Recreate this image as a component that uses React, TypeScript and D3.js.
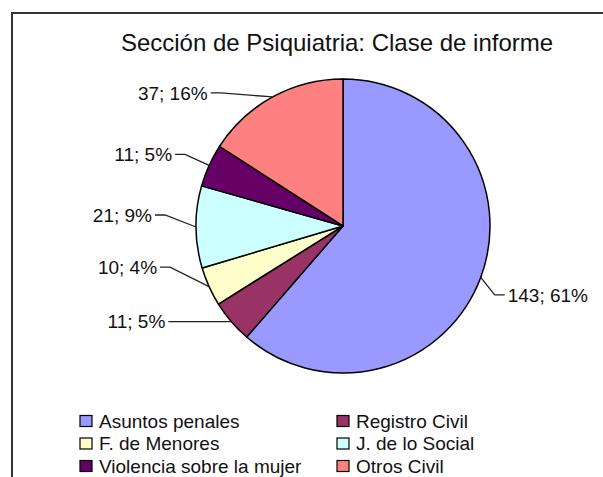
import React from "react";
import * as d3 from "d3";

const title = "Sección de Psiquiatria: Clase de informe";
const categories = [
  "Asuntos penales",
  "Registro Civil",
  "F. de Menores",
  "J. de lo Social",
  "Violencia sobre la mujer",
  "Otros Civil",
];
const values = [143, 11, 10, 21, 11, 37];
const colors = ["#9999ff", "#993366", "#ffffcc", "#ccffff", "#660066", "#ff8080"];

// label placement nudges (text anchor relative to slice edge point)
const labelNudge: [number, number][] = [
  [27, 17.5],
  [-66, 0],
  [-52, -19.5],
  [-44, -12],
  [-37, -11],
  [-65, -4],
];

const W = 603;
const H = 477;
const cx = 343;
const cy = 226;
const R = 147;
const FONT = "'Liberation Sans', Arial, sans-serif";

export default function App() {
  const total = d3.sum(values);
  const pie = d3.pie<number>().sort(null).value((d) => d);
  const arcs = pie(values);
  const arc = d3.arc<d3.PieArcDatum<number>>().innerRadius(0).outerRadius(R);
  const edgeArc = d3.arc<d3.PieArcDatum<number>>().innerRadius(R).outerRadius(R);

  const legendX = [80, 337];
  const legendY0 = 421;
  const legendStep = 22.5;

  return (
    <svg
      width={W}
      height={H}
      style={{ position: "absolute", left: 0, top: 0, background: "#fff" }}
      fontFamily={FONT}
    >
      <rect x={0} y={0} width={W} height={H} fill="#fff" />
      <rect x={12} y={13} width={800} height={700} fill="#fff" stroke="#333" strokeWidth={2} />
      <text x={337} y={51} textAnchor="middle" fontSize={24} fill="#111">
        {title}
      </text>
      <g transform={`translate(${cx},${cy})`}>
        {arcs.map((a, i) => (
          <path key={i} d={arc(a) || ""} fill={colors[i]} stroke="#000" strokeWidth={1.5} strokeLinejoin="round" />
        ))}
      </g>
      {arcs.map((a, i) => {
        const [ex, ey] = edgeArc.centroid(a);
        const px = cx + ex;
        const py = cy + ey;
        const [dx, dy] = labelNudge[i];
        const right = dx > 0;
        const tx = px + dx;
        const ty = py + dy;
        const lineEnd = right ? tx - 3 : tx + 3;
        const elbowX = right ? tx - 13 : tx + 13;
        const pct = Math.round((values[i] / total) * 100);
        return (
          <g key={i}>
            <polyline
              points={`${px},${py} ${elbowX},${ty} ${lineEnd},${ty}`}
              fill="none"
              stroke="#222"
              strokeWidth={1.3}
            />
            <text
              x={tx}
              y={ty}
              dy="0.36em"
              textAnchor={right ? "start" : "end"}
              fontSize={19}
              fill="#111"
            >
              {`${values[i]}; ${pct}%`}
            </text>
          </g>
        );
      })}
      {categories.map((c, i) => {
        const col = i % 2;
        const row = Math.floor(i / 2);
        const x = legendX[col];
        const y = legendY0 + row * legendStep;
        return (
          <g key={c}>
            <rect x={x} y={y - 5.5} width={12} height={11} fill={colors[i]} stroke="#000" strokeWidth={1.2} />
            <text x={x + 19} y={y} dy="0.36em" fontSize={19} fill="#111">
              {c}
            </text>
          </g>
        );
      })}
    </svg>
  );
}
